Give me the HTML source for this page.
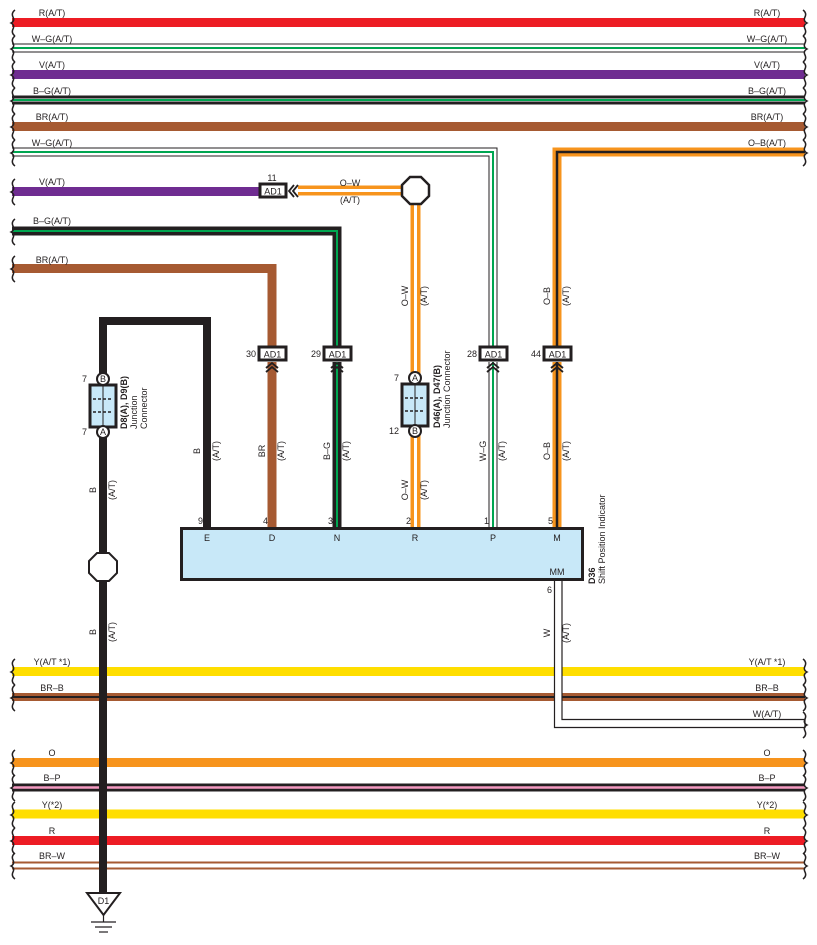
<!DOCTYPE html>
<html><head><meta charset="utf-8"><style>
html,body{margin:0;padding:0;background:#fff;}
svg{display:block;font-family:"Liberation Sans",sans-serif;}
text{font-size:9px;fill:#231f20;}
.b{font-weight:bold;}
</style></head><body>
<svg width="817" height="945" viewBox="0 0 817 945" xmlns="http://www.w3.org/2000/svg">
<g fill="none" stroke-linejoin="miter" stroke-linecap="butt">
<!-- top buses -->
<line x1="12" y1="22.5" x2="805" y2="22.5" stroke="#ed1c24" stroke-width="9"/>
<line x1="12" y1="48" x2="805" y2="48" stroke="#231f20" stroke-width="9"/>
<line x1="12" y1="48" x2="805" y2="48" stroke="#fff" stroke-width="7"/>
<line x1="12" y1="48" x2="805" y2="48" stroke="#00a651" stroke-width="2"/>
<line x1="12" y1="74.5" x2="805" y2="74.5" stroke="#6f2c91" stroke-width="9"/>
<line x1="12" y1="100" x2="805" y2="100" stroke="#231f20" stroke-width="9"/>
<line x1="12" y1="100" x2="805" y2="100" stroke="#fff" stroke-width="3"/>
<line x1="12" y1="100" x2="805" y2="100" stroke="#00a651" stroke-width="2"/>
<line x1="12" y1="126.5" x2="805" y2="126.5" stroke="#a65a32" stroke-width="9"/>
<!-- W-G to 28 -->
<polyline points="12,152 493,152 493,346" stroke="#231f20" stroke-width="9"/>
<polyline points="12,152 493,152 493,346" stroke="#fff" stroke-width="7"/>
<polyline points="12,152 493,152 493,346" stroke="#00a651" stroke-width="2"/>
<!-- O-B to 44 -->
<polyline points="805,152 557,152 557,346" stroke="#f7941d" stroke-width="9"/>
<polyline points="805,152 557,152 557,346" stroke="#231f20" stroke-width="2.5"/>
<!-- V to AD1 11 -->
<line x1="12" y1="191.5" x2="260" y2="191.5" stroke="#6f2c91" stroke-width="9"/>
<!-- B-G to 29 -->
<polyline points="12,231 337,231 337,346" stroke="#231f20" stroke-width="9"/>
<polyline points="12,231 337,231 337,346" stroke="#00a651" stroke-width="2"/>
<!-- BR to 30 -->
<polyline points="12,268.5 272,268.5 272,346" stroke="#a65a32" stroke-width="9"/>
<!-- O-W -->
<line x1="298" y1="190.5" x2="403" y2="190.5" stroke="#f7941d" stroke-width="10"/>
<line x1="298" y1="190.5" x2="403" y2="190.5" stroke="#fff" stroke-width="3"/>
<line x1="415.5" y1="203" x2="415.5" y2="528" stroke="#f7941d" stroke-width="10"/>
<line x1="415.5" y1="203" x2="415.5" y2="528" stroke="#fff" stroke-width="3"/>
<!-- lower verticals -->
<line x1="272" y1="362" x2="272" y2="528" stroke="#a65a32" stroke-width="9"/>
<line x1="337" y1="362" x2="337" y2="528" stroke="#231f20" stroke-width="9"/>
<line x1="337" y1="362" x2="337" y2="528" stroke="#00a651" stroke-width="2"/>
<line x1="493" y1="362" x2="493" y2="528" stroke="#231f20" stroke-width="9"/>
<line x1="493" y1="362" x2="493" y2="528" stroke="#fff" stroke-width="7"/>
<line x1="493" y1="362" x2="493" y2="528" stroke="#00a651" stroke-width="2"/>
<line x1="557" y1="362" x2="557" y2="528" stroke="#f7941d" stroke-width="9"/>
<line x1="557" y1="362" x2="557" y2="528" stroke="#231f20" stroke-width="2.5"/>
<!-- black E wire -->
<polyline points="103,380 103,321 207,321 207,528" stroke="#231f20" stroke-width="8"/>
<!-- lower buses -->
<line x1="12" y1="671.5" x2="805" y2="671.5" stroke="#ffde00" stroke-width="9"/>
<line x1="12" y1="697" x2="805" y2="697" stroke="#a65a32" stroke-width="8"/>
<line x1="12" y1="697" x2="805" y2="697" stroke="#fff" stroke-width="2"/>
<line x1="12" y1="697" x2="805" y2="697" stroke="#231f20" stroke-width="2"/>
<line x1="12" y1="762.5" x2="805" y2="762.5" stroke="#f7941d" stroke-width="9"/>
<line x1="12" y1="787.5" x2="805" y2="787.5" stroke="#231f20" stroke-width="8"/>
<line x1="12" y1="787.5" x2="805" y2="787.5" stroke="#f49ac1" stroke-width="2.5"/>
<line x1="12" y1="814" x2="805" y2="814" stroke="#ffde00" stroke-width="9"/>
<line x1="12" y1="840.5" x2="805" y2="840.5" stroke="#ed1c24" stroke-width="9"/>
<line x1="12" y1="865.5" x2="805" y2="865.5" stroke="#a65a32" stroke-width="8"/>
<line x1="12" y1="865.5" x2="805" y2="865.5" stroke="#fff" stroke-width="4"/>
<!-- W(A/T) -->
<polyline points="554.5,580 554.5,727.5 805,727.5 805,719.5 562,719.5 562,580" stroke="#231f20" stroke-width="1.2" fill="#fff"/>
<!-- ground wire -->
<line x1="103" y1="432" x2="103" y2="895" stroke="#231f20" stroke-width="8"/>
</g>
<!-- braces -->
<g fill="none" stroke="#231f20" stroke-width="1.5">
<path d="M15 10 q-4 3 -2 7 q2 4 -2 6 q4 2 2 6 q-2 4 2 7 M15 36 q-4 3 -2 7 q2 4 -2 6 q4 2 2 6 q-2 4 2 7 M15 62 q-4 3 -2 7 q2 4 -2 6 q4 2 2 6 q-2 4 2 7 M15 88 q-4 3 -2 7 q2 4 -2 6 q4 2 2 6 q-2 4 2 7 M15 114 q-4 3 -2 7 q2 4 -2 6 q4 2 2 6 q-2 4 2 7 M15 140 q-4 3 -2 7 q2 4 -2 6 q4 2 2 6 q-2 4 2 7 M15 179 q-4 3 -2 7 q2 4 -2 6 q4 2 2 6 q-2 4 2 7 M15 219 q-4 3 -2 7 q2 4 -2 6 q4 2 2 6 q-2 4 2 7 M15 256 q-4 3 -2 7 q2 4 -2 6 q4 2 2 6 q-2 4 2 7
M15 659 q-4 3 -2 7 q2 4 -2 6 q4 2 2 6 q-2 4 2 7 M15 685 q-4 3 -2 7 q2 4 -2 6 q4 2 2 6 q-2 4 2 7 M15 750 q-4 3 -2 7 q2 4 -2 6 q4 2 2 6 q-2 4 2 7 M15 775 q-4 3 -2 7 q2 4 -2 6 q4 2 2 6 q-2 4 2 7 M15 802 q-4 3 -2 7 q2 4 -2 6 q4 2 2 6 q-2 4 2 7 M15 828 q-4 3 -2 7 q2 4 -2 6 q4 2 2 6 q-2 4 2 7 M15 853 q-4 3 -2 7 q2 4 -2 6 q4 2 2 6 q-2 4 2 7"/>
<path d="M803 10 q4 3 2 7 q-2 4 2 6 q-4 2 -2 6 q2 4 -2 7 M803 36 q4 3 2 7 q-2 4 2 6 q-4 2 -2 6 q2 4 -2 7 M803 62 q4 3 2 7 q-2 4 2 6 q-4 2 -2 6 q2 4 -2 7 M803 88 q4 3 2 7 q-2 4 2 6 q-4 2 -2 6 q2 4 -2 7 M803 114 q4 3 2 7 q-2 4 2 6 q-4 2 -2 6 q2 4 -2 7 M803 140 q4 3 2 7 q-2 4 2 6 q-4 2 -2 6 q2 4 -2 7
M803 659 q4 3 2 7 q-2 4 2 6 q-4 2 -2 6 q2 4 -2 7 M803 685 q4 3 2 7 q-2 4 2 6 q-4 2 -2 6 q2 4 -2 7 M803 712 q4 3 2 7 q-2 4 2 6 q-4 2 -2 6 q2 4 -2 7 M803 750 q4 3 2 7 q-2 4 2 6 q-4 2 -2 6 q2 4 -2 7 M803 775 q4 3 2 7 q-2 4 2 6 q-4 2 -2 6 q2 4 -2 7 M803 802 q4 3 2 7 q-2 4 2 6 q-4 2 -2 6 q2 4 -2 7 M803 828 q4 3 2 7 q-2 4 2 6 q-4 2 -2 6 q2 4 -2 7 M803 853 q4 3 2 7 q-2 4 2 6 q-4 2 -2 6 q2 4 -2 7"/>
</g>
<!-- bus labels -->
<g text-anchor="middle">
<text x="52" y="16">R(A/T)</text><text x="767" y="16">R(A/T)</text>
<text x="52" y="42">W–G(A/T)</text><text x="767" y="42">W–G(A/T)</text>
<text x="52" y="68">V(A/T)</text><text x="767" y="68">V(A/T)</text>
<text x="52" y="94">B–G(A/T)</text><text x="767" y="94">B–G(A/T)</text>
<text x="52" y="120">BR(A/T)</text><text x="767" y="120">BR(A/T)</text>
<text x="52" y="146">W–G(A/T)</text><text x="767" y="146">O–B(A/T)</text>
<text x="52" y="185">V(A/T)</text>
<text x="52" y="224">B–G(A/T)</text>
<text x="52" y="263">BR(A/T)</text>
<text x="52" y="665">Y(A/T *1)</text><text x="767" y="665">Y(A/T *1)</text>
<text x="52" y="691">BR–B</text><text x="767" y="691">BR–B</text>
<text x="767" y="717">W(A/T)</text>
<text x="52" y="756">O</text><text x="767" y="756">O</text>
<text x="52" y="781">B–P</text><text x="767" y="781">B–P</text>
<text x="52" y="808">Y(*2)</text><text x="767" y="808">Y(*2)</text>
<text x="52" y="834">R</text><text x="767" y="834">R</text>
<text x="52" y="859">BR–W</text><text x="767" y="859">BR–W</text>
<text x="350" y="186">O–W</text><text x="350" y="203">(A/T)</text>
<text x="272" y="181">11</text>
</g>
<!-- octagons -->
<polygon points="410,177 421,177 429,185 429,196 421,204 410,204 402,196 402,185" fill="#fff" stroke="#231f20" stroke-width="2.5"/>
<polygon points="97,553 109,553 117,561 117,573 109,581 97,581 89,573 89,561" fill="#fff" stroke="#231f20" stroke-width="2"/>
<!-- AD1 boxes -->
<g fill="#fff" stroke="#231f20" stroke-width="3">
<rect x="260" y="184" width="26" height="13"/>
<rect x="259" y="347" width="27" height="13"/>
<rect x="324" y="347" width="27" height="13"/>
<rect x="480" y="347" width="27" height="13"/>
<rect x="544" y="347" width="27" height="13"/>
</g>
<g text-anchor="middle">
<text x="273" y="194.5">AD1</text>
<text x="272.5" y="357.5">AD1</text><text x="337.5" y="357.5">AD1</text><text x="493.5" y="357.5">AD1</text><text x="557.5" y="357.5">AD1</text>
</g>
<g text-anchor="end"><text x="256" y="357">30</text><text x="321" y="357">29</text><text x="477" y="357">28</text><text x="541" y="357">44</text></g>
<!-- chevrons -->
<g fill="none" stroke="#231f20" stroke-width="1.8">
<path d="M266 368 l6 -5 l6 5 M266 372 l6 -5 l6 5"/>
<path d="M331 368 l6 -5 l6 5 M331 372 l6 -5 l6 5"/>
<path d="M487 368 l6 -5 l6 5 M487 372 l6 -5 l6 5"/>
<path d="M551 368 l6 -5 l6 5 M551 372 l6 -5 l6 5"/>
<path d="M294 185 l-5 6 l5 6 M298 185 l-5 6 l5 6"/>
</g>
<!-- junction connectors -->
<g stroke="#231f20">
<rect x="90" y="385" width="26" height="42" fill="#c8e8f8" stroke-width="3"/>
<line x1="103" y1="385" x2="103" y2="427" stroke-width="1"/>
<line x1="93" y1="399" x2="113" y2="399" stroke-width="1.5" stroke-dasharray="3,2"/>
<line x1="93" y1="412" x2="113" y2="412" stroke-width="1.5" stroke-dasharray="3,2"/>
<circle cx="103" cy="379" r="6" fill="#fff" stroke-width="2"/>
<circle cx="103" cy="432" r="6" fill="#fff" stroke-width="2"/>
<rect x="402" y="384" width="26" height="42" fill="#c8e8f8" stroke-width="3"/>
<line x1="415" y1="384" x2="415" y2="426" stroke-width="1"/>
<line x1="405" y1="398" x2="425" y2="398" stroke-width="1.5" stroke-dasharray="3,2"/>
<line x1="405" y1="411" x2="425" y2="411" stroke-width="1.5" stroke-dasharray="3,2"/>
<circle cx="415" cy="378" r="6" fill="#fff" stroke-width="2"/>
<circle cx="415" cy="431" r="6" fill="#fff" stroke-width="2"/>
</g>
<g text-anchor="middle" font-size="8">
<text x="103" y="382">B</text><text x="103" y="435">A</text>
<text x="415" y="381">A</text><text x="415" y="434">B</text>
</g>
<text x="87" y="382" text-anchor="end">7</text><text x="87" y="435" text-anchor="end">7</text>
<text x="399" y="381" text-anchor="end">7</text><text x="399" y="434" text-anchor="end">12</text>
<g transform="translate(127,429) rotate(-90)"><text class="b" x="0" y="0">D8(A), D9(B)</text><text x="0" y="10">Junction</text><text x="0" y="20">Connector</text></g>
<g transform="translate(440,428) rotate(-90)"><text class="b" x="0" y="0">D46(A), D47(B)</text><text x="0" y="10">Junction Connector</text></g>
<!-- D36 box -->
<rect x="181.5" y="528.5" width="401" height="51" fill="#c8e8f8" stroke="#231f20" stroke-width="3"/>
<g text-anchor="middle">
<text x="207" y="541">E</text><text x="272" y="541">D</text><text x="337" y="541">N</text><text x="415" y="541">R</text><text x="493" y="541">P</text><text x="557" y="541">M</text>
<text x="557" y="575">MM</text>
</g>
<g text-anchor="end"><text x="203" y="524">9</text><text x="268" y="524">4</text><text x="333" y="524">3</text><text x="411" y="524">2</text><text x="489" y="524">1</text><text x="553" y="524">5</text><text x="552" y="593">6</text></g>
<g transform="translate(595,584) rotate(-90)"><text class="b" x="0" y="0">D36</text><text x="0" y="10">Shift Position Indicator</text></g>
<!-- rotated wire labels -->
<g text-anchor="middle">
<g transform="translate(200,451) rotate(-90)"><text>B</text></g><g transform="translate(219,451) rotate(-90)"><text>(A/T)</text></g>
<g transform="translate(265,451) rotate(-90)"><text>BR</text></g><g transform="translate(284,451) rotate(-90)"><text>(A/T)</text></g>
<g transform="translate(330,451) rotate(-90)"><text>B–G</text></g><g transform="translate(349,451) rotate(-90)"><text>(A/T)</text></g>
<g transform="translate(408,490) rotate(-90)"><text>O–W</text></g><g transform="translate(427,490) rotate(-90)"><text>(A/T)</text></g>
<g transform="translate(408,296) rotate(-90)"><text>O–W</text></g><g transform="translate(427,296) rotate(-90)"><text>(A/T)</text></g>
<g transform="translate(486,451) rotate(-90)"><text>W–G</text></g><g transform="translate(505,451) rotate(-90)"><text>(A/T)</text></g>
<g transform="translate(550,451) rotate(-90)"><text>O–B</text></g><g transform="translate(569,451) rotate(-90)"><text>(A/T)</text></g>
<g transform="translate(550,296) rotate(-90)"><text>O–B</text></g><g transform="translate(569,296) rotate(-90)"><text>(A/T)</text></g>
<g transform="translate(96,490) rotate(-90)"><text>B</text></g><g transform="translate(115,490) rotate(-90)"><text>(A/T)</text></g>
<g transform="translate(96,632) rotate(-90)"><text>B</text></g><g transform="translate(115,632) rotate(-90)"><text>(A/T)</text></g>
<g transform="translate(550,633) rotate(-90)"><text>W</text></g><g transform="translate(569,633) rotate(-90)"><text>(A/T)</text></g>
</g>
<!-- ground -->
<polygon points="87,893 120,893 103.5,915" fill="#fff" stroke="#231f20" stroke-width="2"/>
<text x="103.5" y="904" text-anchor="middle">D1</text>
<g stroke="#231f20" stroke-width="1.2">
<line x1="103.5" y1="915" x2="103.5" y2="922"/>
<line x1="91" y1="922" x2="116" y2="922"/>
<line x1="95" y1="927" x2="112" y2="927"/>
<line x1="99" y1="932" x2="108" y2="932"/>
</g>
</svg>
</body></html>
